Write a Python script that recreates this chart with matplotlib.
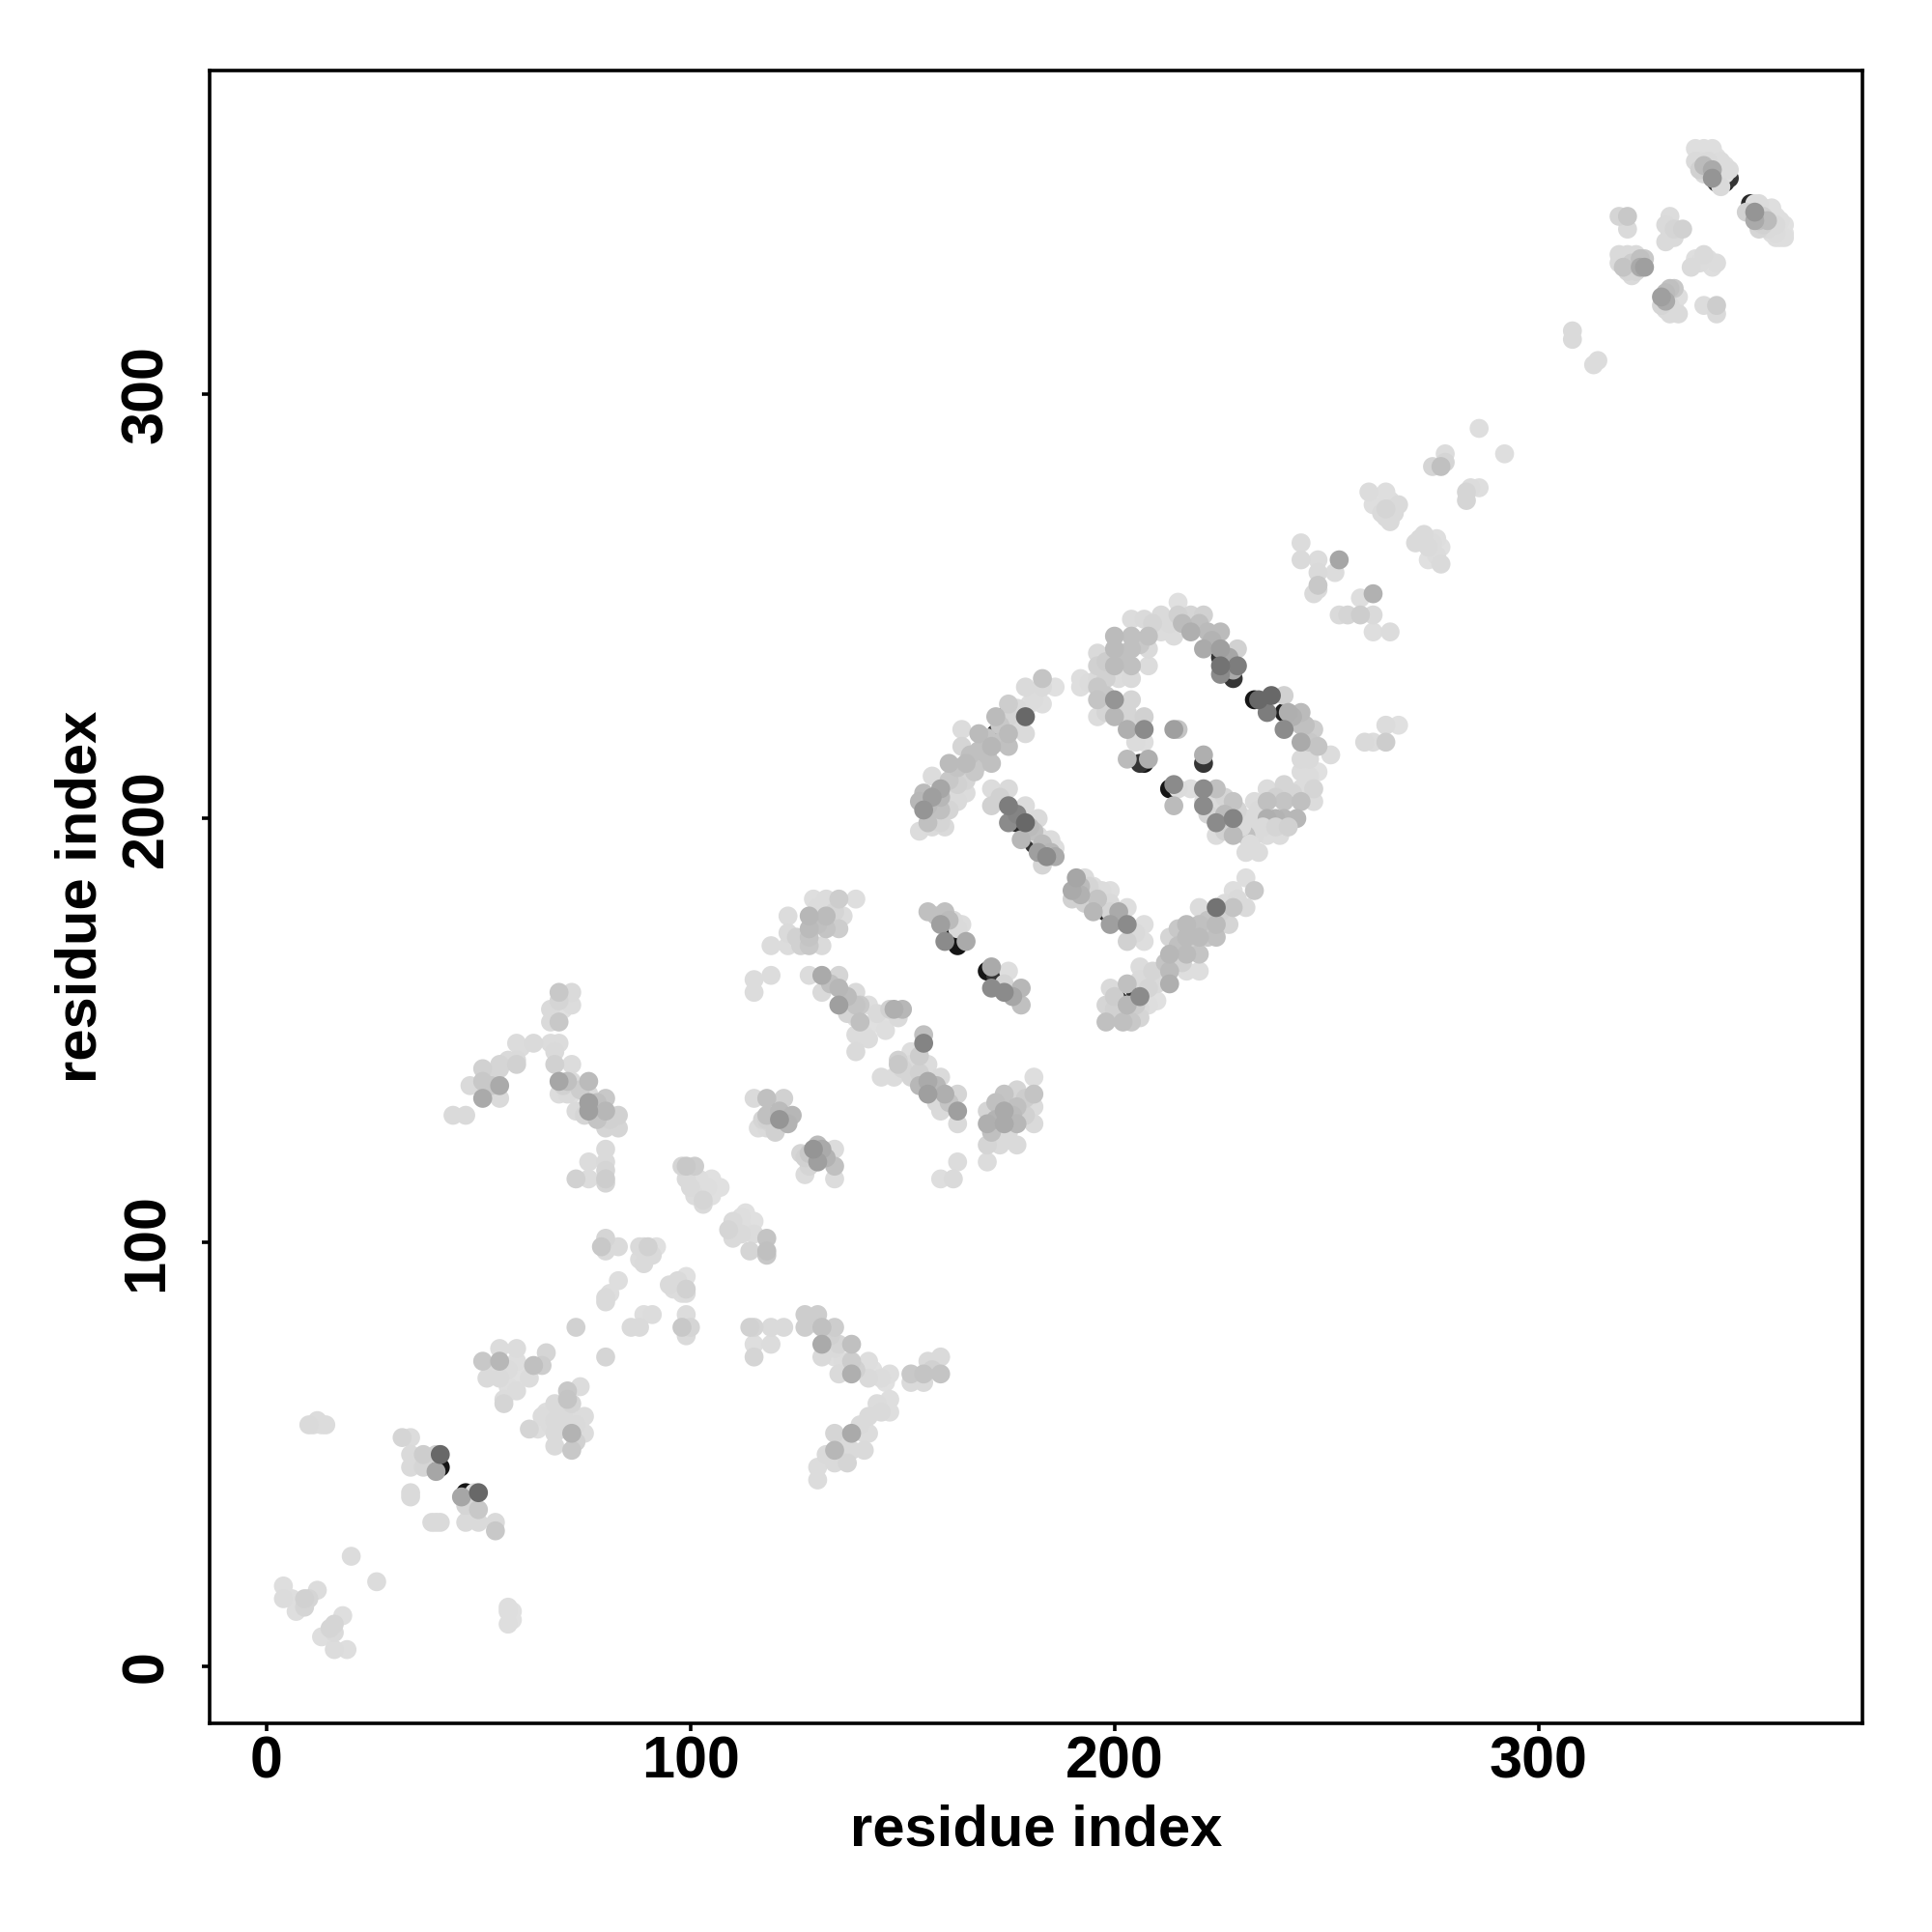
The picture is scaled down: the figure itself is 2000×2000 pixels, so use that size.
import numpy as np
import matplotlib
matplotlib.use("Agg")
import matplotlib.pyplot as plt

plt.rcParams['font.family'] = ['Liberation Sans', 'DejaVu Sans']

# each contact: residue i, residue j, grey level
low_left = [(4,19,.86),(4,16,.85),(7,13,.86),(6,16,.86),(9,16,.8),(10,16,.82),(9,14,.82),(12,18,.85),(18,12,.86),
    (16,10,.82),(15,9,.82),(16,8,.84),(13,7,.86),(16,4,.85),(19,4,.86),(20,26,.85),(26,20,.85),
    (57,14,.86),(58,13,.87),(58,11,.87),(57,10,.86),(57,13,.86),
    (10,57,.84),(11,57,.85),(12,58,.85),(13,57,.86),(14,57,.85)]
strand_40 = [(32,54,.82),(34,54,.85),(34,50,.84),(34,47,.84),(37,50,.78),(37,47,.82),(40,50,.8),(40,46,.6),(41,47,.1),(41,50,.42),
    (34,41,.84),(34,40,.84),(39,34,.84),(40,34,.84),(41,34,.84),(46,40,.6),(47,41,.1),(49,41,.85),(50,41,.42),
    (47,38,.82),(50,37,.76),(48,36,.84),(47,34,.84),(50,34,.84),(54,34,.84),(54,32,.76)]
block_60 = [(51,72,.76),(55,75,.85),(55,72,.68),(59,75,.85),(52,68,.84),(55,68,.84),(59,72,.86),(63,71,.72),(65,71,.78),(66,74,.82),
    (62,68,.85),(58,68,.87),(59,65,.85),(56,63,.85),(56,62,.82),
    (74,66,.85),(71,65,.76),(71,63,.74),(68,62,.84),(65,59,.85),(68,58,.84),(71,59,.85),(75,59,.85),(62,56,.82),(64,56,.86),
    (68,55,.84),(72,55,.66),(75,55,.85),(68,52,.84),(72,51,.76),(69,57,.86),
    (57,70,.85),(60,70,.87),(57,66,.86),(61,69,.87),(54,70,.85),(70,60,.84),(73,57,.84),(70,56,.84),(67,57,.85),(72,62,.82),(66,60,.86),(73,53,.8)]
block_90 = [(73,80,.8),(80,73,.82),(80,87,.84),(80,86,.84),(81,88,.86),(83,91,.86),(86,80,.84),(88,80,.84),(89,83,.86),(91,83,.85),
    (99,83,.85),(98,80,.76),(100,80,.82),(99,78,.84),(80,101,.82),(79,99,.76),(83,99,.84),(80,98,.84),
    (88,99,.84),(89,99,.84),(90,99,.8),(92,99,.87),(88,96,.85),(89,95,.84),(91,97,.84),
    (96,89,.85),(97,91,.84),(99,92,.87),(99,89,.8),(98,88,.86),(99,88,.85),(95,90,.84)]
arm_lower = [(114,80,.8),(115,80,.82),(119,80,.84),(122,80,.84),(115,76,.86),(119,76,.85),(115,73,.82),
    (127,83,.78),(130,83,.78),(127,80,.78),(131,80,.72),(134,80,.78),(131,76,.62),(135,76,.82),(138,76,.72),
    (131,73,.84),(134,73,.86),(138,72,.78),(138,69,.64),(135,69,.84),(142,72,.86),(142,68,.84),(147,69,.86),(145,68,.85),
    (152,69,.76),(155,69,.74),(159,69,.74),(156,72,.84),(159,73,.84),(152,67,.84),(155,67,.84),
    (147,63,.86),(147,60,.86),(145,60,.84),(142,59,.84),(142,55,.85),(138,55,.62),(134,55,.82),(134,51,.68),(138,51,.84),
    (141,55,.85),(141,51,.84),(137,48,.82),(134,48,.84),(130,47,.85),(130,44,.85),
    (133,78,.8),(129,81,.78),(134,75,.84),(136,72,.85),(139,70,.8),(143,70,.87),(146,67,.87),(144,62,.85),(140,57,.84),(136,53,.84),(132,50,.84),(157,70,.8)]
wedge_70 = [(44,130,.84),(47,130,.84),(48,137,.84),(51,134,.62),(55,137,.62),(55,141,.82),(51,138,.76),(51,141,.8),(55,134,.84),
    (59,147,.85),(63,147,.84),(59,143,.84),(59,142,.8),(55,142,.82),(60,146,.85),(67,147,.85),(69,147,.85),(68,145,.84),
    (69,159,.76),(72,159,.84),(67,155,.84),(70,155,.87),(72,156,.85),(69,152,.76),(67,152,.84),(69,157,.82),
    (68,142,.8),(72,142,.85),(69,138,.6),(71,138,.72),(72,138,.84),(76,138,.7),(69,135,.85),(72,135,.86),(76,135,.84),
    (76,133,.58),(76,131,.58),(73,131,.84),(80,134,.76),(80,131,.68),(83,130,.8),(80,127,.82),(83,127,.82),
    (80,122,.84),(76,119,.85),(80,119,.84),(73,115,.8),(76,115,.85),(80,115,.78),(80,114,.82),(80,117,.82),
    (71,135,.84),(74,136,.78),(78,133,.72),(78,129,.74),(81,129,.8),(75,130,.82),(70,137,.8),(53,137,.76),(53,140,.82),(57,143,.84)]
strand_105 = [(98,118,.82),(99,118,.76),(101,118,.78),(99,115,.84),(102,115,.86),(105,115,.87),(107,113,.87),(101,111,.85),(103,109,.84),
    (105,111,.87),(103,110,.82),(100,113,.84),(104,113,.86),
    (113,107,.87),(115,105,.87),(110,105,.84),(109,103,.82),(112,102,.84),(110,101,.84),(115,102,.85),(118,101,.74),(114,98,.82),
    (118,98,.72),(112,104,.86),(112,106,.86),(118,97,.76)]
strand_125 = [(115,134,.84),(118,134,.72),(122,134,.8),(124,130,.68),(118,130,.72),(121,129,.55),(116,127,.85),(118,127,.84),(120,126,.8),
    (122,128,.82),(118,129,.8),(130,123,.7),(134,122,.85),(134,118,.72),(130,119,.58),(129,122,.55),(127,120,.8),(127,116,.85),
    (134,115,.85),(126,121,.82),(130,121,.82),
    (119,128,.82),(121,131,.7),(123,128,.66),(117,129,.82),(128,118,.82),(131,122,.62),(132,120,.66),(128,121,.76)]
block_130 = [(139,181,.86),(135,181,.78),(132,181,.85),(129,181,.86),(136,177,.85),(132,177,.7),(128,177,.68),(123,177,.85),
    (132,174,.74),(128,174,.7),(123,173,.84),(135,174,.78),(128,170,.76),(131,170,.84),(123,170,.85),(119,170,.85),(126,170,.8),
    (115,162,.85),(119,163,.85),(115,159,.85),
    (128,163,.85),(131,163,.62),(135,163,.82),(131,159,.84),(135,160,.68),(139,159,.84),(135,156,.58),(139,156,.74),(142,156,.86),
    (148,155,.64),(150,155,.68),(139,153,.86),(139,149,.85),(139,145,.84),(142,151,.87),(142,148,.85),(145,152,.87),(140,152,.72),
    (128,172,.74),(130,175,.72),(130,179,.85),(134,178,.82),(125,172,.8),(133,161,.72),(137,158,.7),(137,154,.82),(140,156,.76),
    (144,154,.84),(141,149,.86),(147,155,.8),(149,153,.84),(146,150,.86)]
block_155 = [(155,149,.72),(155,147,.5),(152,145,.86),(149,143,.8),(152,142,.84),(145,139,.85),(148,139,.85),(152,139,.82),(156,142,.85),
    (156,138,.62),(159,139,.84),(156,135,.58),(160,135,.64),(163,135,.82),(159,131,.84),(163,131,.58),(163,128,.84),(149,142,.76),
    (163,119,.85),(159,115,.86),(162,115,.84),
    (170,131,.82),(170,128,.64),(170,123,.82),(170,119,.85),(173,123,.84),(174,135,.74),(174,131,.62),(174,128,.62),(177,128,.68),
    (177,123,.84),(177,136,.82),(177,132,.72),(181,139,.86),(181,135,.74),(181,132,.85),(181,128,.84),
    (154,144,.78),(154,140,.8),(158,137,.68),(158,133,.84),(150,141,.82),(154,137,.68),(161,133,.74),
    (172,129,.66),(172,133,.72),(176,130,.7),(179,134,.78),(179,130,.8),(175,126,.84),(171,126,.72)]
pair_165 = [(163,170,.1),(162,173,.1),(156,178,.72),(160,178,.72),(159,175,.58),(164,175,.85),(160,171,.52),(163,174,.84),(165,171,.62),
    (170,164,.1),(172,163,.25),(171,165,.62),(175,164,.86),(171,160,.52),(174,159,.52),(174,161,.82),(178,160,.68),(178,156,.72),
    (161,176,.7),(158,177,.74),(162,176,.84),(176,158,.6)]
arc_upper = [(154,197,.85),(157,198,.84),(157,205,.58),(157,201,.82),(161,202,.82),(161,206,.84),(165,206,.85),(161,209,.76),(165,209,.82),
    (161,213,.7),(165,213,.7),(168,213,.76),(164,221,.85),(164,217,.82),(168,220,.7),(168,216,.72),(171,213,.72),(171,217,.68),
    (172,220,.25),(172,224,.7),(175,217,.72),(175,220,.7),(175,227,.78),(175,224,.82),(174,224,.25),(179,224,.42),(179,220,.84),
    (179,231,.84),(180,227,.86),(183,227,.86),(183,233,.74),(186,231,.87),(183,231,.84),(155,202,.55),(159,202,.72),(160,198,.84),
    (155,206,.7),(159,207,.6),(154,204,.68),(156,199,.72),(157,210,.85),
    (163,208,.8),(167,211,.76),(170,215,.72),(173,218,.74),(177,222,.84),(181,228,.85),(177,226,.84),(173,222,.76),(158,203,.72),
    (156,203,.7),(159,205,.68),(163,204,.84),(170,219,.74),(166,215,.72),(159,199,.82),(163,212,.74)]
arc_inner = [(171,207,.85),(175,207,.84),(171,203,.8),(175,203,.48),(179,203,.85),(175,199,.52),(179,199,.42),(178,195,.68),(182,200,.84),
    (182,196,.85),(185,195,.85),(186,193,.86),(183,189,.82),(182,192,.58),(184,191,.52),(184,192,.84),(181,194,.25),(177,199,.2),
    (190,183,.62),(191,186,.6),(193,186,.85),(195,184,.86),(190,181,.8),(199,183,.86),(195,182,.84),(194,182,.25),(195,178,.68),
    (199,180,.84),(199,178,.82),(198,178,.2),(199,175,.58),(203,179,.86),(203,175,.52),(207,175,.86),(203,171,.8),(207,171,.86),(201,178,.62),
    (173,205,.8),(177,201,.5),(180,198,.7),(183,194,.7),(185,192,.68),(186,191,.62),(183,195,.85),(181,197,.72),(192,184,.7),(194,184,.82),
    (196,181,.74),(197,183,.85),(201,176,.7),(205,173,.84),(192,182,.65),(193,180,.8)]
arc_lower = [(231,186,.86),(228,183,.86),(233,183,.76),(231,179,.84),(228,179,.74),(224,179,.45),(220,179,.85),(227,175,.82),(224,175,.7),
    (224,172,.72),(220,175,.72),(220,172,.7),(218,173,.25),(217,175,.7),(217,172,.7),(220,168,.74),(217,168,.7),(213,172,.82),(213,168,.68),
    (213,164,.7),(217,164,.86),(220,164,.86),(213,161,.64),(209,164,.82),(210,161,.84),(206,165,.85),(206,162,.84),(203,161,.72),
    (199,160,.84),(210,157,.87),(206,158,.52),(206,155,.84),(203,156,.68),(198,156,.82),(202,154,.8),(198,152,.72),(202,152,.72),
    (206,153,.82),(204,152,.76),(201,157,.25),(205,159,.25),
    (215,170,.72),(216,166,.8),(215,174,.76),(219,170,.78),(222,176,.74),(222,172,.76),(225,178,.8),(226,180,.85),(229,181,.84),
    (211,163,.84),(208,160,.82),(212,166,.74),(205,156,.78),(200,155,.8),(200,158,.78),(199,153,.82),(204,156,.84),(208,156,.86)]
ring_top = [(215,251,.87),(204,247,.85),(207,247,.84),(211,248,.84),(215,248,.8),(218,248,.82),(221,248,.8),(211,244,.85),(214,243,.85),
    (208,243,.72),(204,243,.72),(200,243,.7),(218,244,.64),(222,244,.7),(225,244,.7),(221,240,.62),(225,240,.58),(229,240,.8),(200,240,.7),
    (204,240,.72),(208,240,.84),(196,239,.84),(200,236,.7),(204,236,.72),(208,236,.85),(196,236,.8),(225,236,.45),(229,236,.48),
    (228,233,.25),(225,234,.52),(227,234,.25),(225,238,.25),(228,235,.62),
    (192,233,.86),(192,231,.86),(196,233,.84),(201,233,.85),(204,233,.84),(196,231,.76),(200,228,.55),(196,228,.74),(204,228,.82),
    (196,224,.85),(200,224,.68),(203,225,.82),(207,224,.8),(203,221,.64),(207,221,.52),(204,221,.86),(207,218,.86),(203,214,.7),
    (208,214,.64),(207,213,.1),(206,213,.25),(214,221,.58),(215,221,.74),(221,215,.64),(221,213,.25),
    (213,246,.84),(209,246,.82),(216,246,.7),(220,246,.72),(223,242,.66),(227,238,.6),(206,241,.76),(202,239,.72),(198,237,.78),
    (198,233,.8),(198,229,.76),(202,226,.84),(206,222,.82),(194,232,.85),(198,225,.82),(205,218,.85)]
ring_right = [(233,228,.1),(234,228,.42),(237,229,.42),(236,225,.48),(240,229,.8),(240,225,.15),(241,225,.64),(240,221,.52),(244,225,.7),
    (244,222,.72),(244,218,.62),(247,221,.78),(248,217,.74),(251,215,.85),(244,214,.84),(248,211,.87),(244,211,.85),(247,207,.82),
    (244,207,.85),(247,204,.85),(240,208,.82),(236,207,.85),(244,204,.72),(240,204,.74),(236,204,.72),(243,200,.68),(240,200,.68),
    (236,200,.64),(239,196,.85),(236,196,.85),(233,204,.85),(233,200,.84),(233,196,.84),(231,200,.84),(231,196,.72),(231,192,.85),(234,192,.85),
    (246,214,.84),(246,218,.76),(245,222,.72),(242,224,.65),(246,210,.85),(245,206,.85),(242,206,.82),(238,205,.8),(238,200,.66),(234,202,.84)]
ring_inner = [(213,207,.1),(214,208,.52),(215,207,.85),(218,207,.86),(221,207,.52),(224,207,.72),(214,203,.7),(221,203,.52),(221,204,.86),
    (224,204,.84),(224,199,.52),(228,204,.74),(228,200,.5),(224,196,.85),(228,196,.7),
    (226,201,.7),(226,197,.8),(222,201,.82),(230,198,.84),(232,194,.85),(235,198,.84),(238,198,.82),(241,198,.8),(229,202,.82),(226,205,.82)]
outer_250 = [(247,253,.84),(248,255,.76),(244,265,.85),(244,261,.84),(248,261,.85),(248,258,.84),(252,258,.85),(248,254,.84),(253,261,.6),
    (261,253,.65),(258,252,.86),(253,248,.84),(255,248,.82),(258,248,.78),(261,248,.84),(261,244,.86),(265,244,.85),
    (259,218,.84),(261,218,.85),(264,218,.78),(264,222,.85),(267,222,.87),
    (260,277,.85),(264,277,.86),(261,274,.86),(264,271,.84),(267,274,.84),(266,272,.84),(264,273,.82),
    (273,267,.84),(271,265,.84),(275,265,.85),(277,264,.87),(274,261,.87),(277,260,.84),(272,266,.84),
    (275,283,.82),(277,283,.72),(278,286,.85),(278,284,.82),(283,277,.82),(283,275,.82),(284,278,.85),(286,278,.86),
    (286,292,.86),(292,286,.86),
    (265,275,.86),(263,272,.84),(265,270,.84),(265,273,.84),(274,264,.84),(273,265,.85),(276,262,.85),(276,266,.86)]
upper_right = [(308,313,.84),(308,315,.84),(313,307,.85),(314,308,.85),(319,342,.82),(321,342,.76),(321,339,.84),
    (331,342,.85),(330,340,.84),(332,339,.82),(334,339,.8),(330,336,.84),(331,338,.86),
    (319,333,.84),(321,333,.84),(323,333,.84),(320,330,.74),(321,329,.82),(323,329,.82),(324,330,.62),(325,330,.58),(319,331,.84),(325,332,.76),
    (336,330,.84),(339,333,.84),(338,331,.85),(340,331,.87),(342,331,.85),
    (331,325,.72),(329,323,.58),(330,322,.62),(329,321,.82),(331,319,.84),(333,319,.84),(332,325,.76),(333,323,.86),
    (339,321,.85),(342,321,.78),(342,319,.84),
    (322,331,.78),(320,332,.84),(324,332,.72),(322,328,.84),(331,340,.86),(332,337,.84),(337,332,.86),(341,330,.86),
    (331,321,.84),(330,320,.84),(332,321,.86),(330,324,.7),(340,332,.86)]
end_strands = [(337,358,.86),(337,355,.84),(339,358,.86),(341,358,.86),(339,354,.7),(341,353,.62),(338,353,.8),(343,355,.85),(341,351,.55),
    (342,350,.25),(344,350,.2),(343,349,.84),(345,351,.25),(345,353,.85),
    (350,345,.2),(350,343,.25),(349,343,.8),(351,343,.55),(351,341,.62),(352,345,.85),(352,339,.82),(355,344,.86),(354,341,.7),
    (356,338,.85),(358,340,.87),(358,337,.86),(357,341,.86),(356,340,.84),
    (338,357,.87),(339,356,.86),(340,355,.84),(341,355,.86),(342,354,.86),(343,353,.86),(344,352,.87),(340,357,.87),(342,356,.87),(344,354,.87),
    (338,355,.85),(340,353,.78),(339,352,.84),
    (351,345,.86),(353,344,.86),(354,343,.86),(355,342,.87),(356,342,.87),(357,339,.87),(358,338,.87),(353,342,.8),(352,341,.72),(354,339,.84),
    (355,340,.86),(356,337,.86),(357,337,.86),(353,340,.8),(355,338,.86)]

clusters = [low_left, strand_40, block_60, block_90, arm_lower, wedge_70, strand_105, strand_125, block_130, block_155,
            pair_165, arc_upper, arc_inner, arc_lower, ring_top, ring_right, ring_inner, outer_250, upper_right, end_strands]


def draw_order(c):
    # blackest go underneath and stay as crescents, mid greys end up on top
    if c[2] < 0.3:
        return c[2]
    if c[2] >= 0.76:
        return 2 - c[2]
    return 3 - c[2]


fig = plt.figure(figsize=(10, 10), dpi=200)
ax = fig.add_axes([0.1085, 0.108, 0.8555, 0.8555])

for contacts in clusters:
    arr = np.array(sorted(contacts, key=draw_order))
    shade = np.interp(arr[:, 2], [0, .3, .6, .85, 1], [0, .25, .65, .86, 1])
    ax.scatter(arr[:, 0], arr[:, 1], s=50, c=shade, cmap='gray', vmin=0, vmax=1, linewidths=0, zorder=2)

ax.set_xlim(-13.4, 376.4)
ax.set_ylim(-13.4, 376.4)
ax.set_xticks([0, 100, 200, 300])
ax.set_yticks([0, 100, 200, 300])
ax.tick_params(axis='x', length=3, width=1.3, pad=1.6, labelsize=22)
ax.tick_params(axis='y', length=3, width=1.3, pad=9.8, labelsize=22)
for lab in ax.get_xticklabels() + ax.get_yticklabels():
    lab.set_fontweight('bold')
for lab in ax.get_yticklabels():
    lab.set_rotation(90)
    lab.set_va('center')
for sp in ax.spines.values():
    sp.set_linewidth(1.3)

ax.set_xlabel("residue index", fontsize=21.5, fontweight='bold')
ax.set_ylabel("residue index", fontsize=21.5, fontweight='bold')
ax.xaxis.set_label_coords(0.5, -0.0486)
ax.yaxis.set_label_coords(-0.0618, 0.5)

fig.savefig("out.png", dpi=200)
